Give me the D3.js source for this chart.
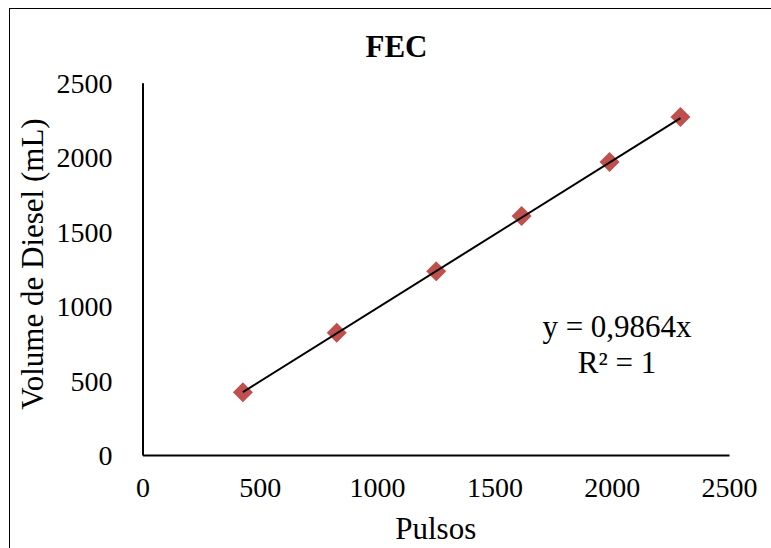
<!DOCTYPE html>
<html>
<head>
<meta charset="utf-8">
<script src="https://cdn.jsdelivr.net/npm/d3@7"></script>
<style>
  html, body { margin: 0; padding: 0; background: #fff; }
  svg text { font-family: "Liberation Serif", "Times New Roman", serif !important; fill: #000; }
</style>
</head>
<body>
<script>
// ---- data ----
const chartTitle = "FEC";
const xLabel = "Pulsos";
const yLabel = "Volume de Diesel (mL)";
const pulsos = [428, 828, 1252, 1616, 1991, 2293];
const volume = [421, 821, 1234, 1605, 1968, 2270];
const slope = 0.9864;
const equationLines = ["y = 0,9864x", "R\u00b2 = 1"];
const xTicks = [0, 500, 1000, 1500, 2000, 2500];
const yTicks = [0, 500, 1000, 1500, 2000, 2500];

const W = 771, H = 548;
const FONT = "Liberation Serif, Times New Roman, serif";
const svg = d3.select("body").append("svg").attr("width", W).attr("height", H)
  .attr("font-family", FONT);

// outer frame (cut off at right/bottom as in reference)
svg.append("rect").attr("x", 9.5).attr("y", 8.5).attr("width", 800).attr("height", 600)
  .attr("fill", "none").attr("stroke", "#000").attr("stroke-width", 1);

const x = d3.scaleLinear().domain([0, 2500]).range([142.5, 729]);
const y = d3.scaleLinear().domain([0, 2500]).range([455, 82.7]);

// axes
const xAxis = svg.append("g").attr("transform", `translate(0,${y(0)})`)
  .call(d3.axisBottom(x).tickValues(xTicks).tickSize(0).tickPadding(0).tickFormat(d3.format("d")));
xAxis.attr("font-family", FONT).attr("font-size", 28);
xAxis.select(".domain").attr("stroke", "#000").attr("stroke-width", 2);
xAxis.selectAll("text").attr("font-family", FONT).attr("font-size", 28).attr("dy", null).attr("y", 42);

const yAxis = svg.append("g").attr("transform", `translate(${x(0)},0)`)
  .call(d3.axisLeft(y).tickValues(yTicks).tickSize(0).tickPadding(30).tickFormat(d3.format("d")));
yAxis.attr("font-family", FONT).attr("font-size", 28);
yAxis.select(".domain").attr("stroke", "#000").attr("stroke-width", 2);
yAxis.selectAll("text").attr("font-family", FONT).attr("font-size", 28).attr("dy", "0.35em");

// diamond markers
const xs = d3.extent(pulsos);
const r = 10;
svg.append("g").selectAll("path").data(pulsos.map((p, i) => [p, volume[i]])).join("path")
  .attr("transform", d => `translate(${x(d[0])},${y(d[1])})`)
  .attr("d", `M0,${-r}L${r},0L0,${r}L${-r},0Z`)
  .attr("fill", "#C0504D");

// trend line on top of markers
svg.append("path")
  .datum(xs)
  .attr("d", d3.line().x(d => x(d)).y(d => y(slope * d)))
  .attr("stroke", "#000").attr("stroke-width", 2).attr("fill", "none");

// title
svg.append("text").attr("x", 396.5).attr("y", 56.5).attr("text-anchor", "middle")
  .attr("font-size", 31).attr("font-weight", "bold").text(chartTitle);

// axis titles
svg.append("text").attr("x", (x(0) + x(2500)) / 2).attr("y", 539).attr("text-anchor", "middle")
  .attr("font-size", 31).text(xLabel);
svg.append("text").attr("transform", `translate(43,${264}) rotate(-90)`).attr("text-anchor", "middle")
  .attr("font-size", 31).text(yLabel);

// equation
svg.append("g").selectAll("text").data(equationLines).join("text")
  .attr("x", 617).attr("y", (d, i) => 336.5 + i * 36).attr("text-anchor", "middle")
  .attr("font-size", 31).text(d => d);
</script>
</body>
</html>
